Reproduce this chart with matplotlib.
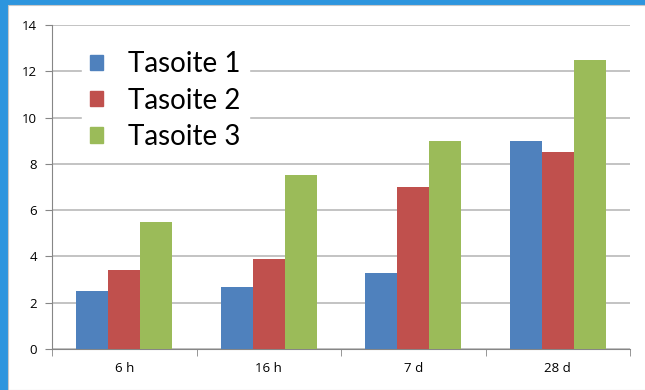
import matplotlib.pyplot as plt
import matplotlib.patches as mpatches
import numpy as np

categories = ["6 h", "16 h", "7 d", "28 d"]
series_names = ["Tasoite 1", "Tasoite 2", "Tasoite 3"]
tasoite1 = [2.5, 2.7, 3.3, 9.0]
tasoite2 = [3.4, 3.9, 7.0, 8.5]
tasoite3 = [5.5, 7.5, 9.0, 12.5]
colors = ["#4F81BD", "#C0504D", "#9BBB59"]

W, H = 645, 390
fig = plt.figure(figsize=(W / 100, H / 100), dpi=100)
fig.patch.set_facecolor("#2D95DE")
# white slide panel
fig.patches.append(mpatches.Rectangle((8 / W, 0), 1, 1 - 5 / H, transform=fig.transFigure,
                                      facecolor="white", edgecolor="#C8C8C8", lw=0.8, zorder=-5))

ax = fig.add_axes([52 / W, 1 - 349 / H, (630 - 52) / W, (349 - 25) / H])
ax.set_facecolor("none")

x = np.arange(len(categories))
w = 1 / 4.5
for i, vals in enumerate([tasoite1, tasoite2, tasoite3]):
    ax.bar(x + (i - 1) * w, vals, w, color=colors[i], label=series_names[i], zorder=3)

ax.set_xlim(-0.5, len(categories) - 0.5)
ax.set_ylim(0, 14)
ax.set_yticks(range(0, 15, 2))
ax.set_xticks(x)
ax.set_xticklabels(categories, fontsize=9.5, family="Open Sans")
ax.set_xticks(np.arange(-0.5, len(categories), 1), minor=True)
ax.tick_params(axis="x", which="major", length=0, pad=9)
ax.tick_params(axis="x", which="minor", length=5, color="#868686", direction="out")
ax.tick_params(axis="y", length=5, color="#868686", labelsize=9.5, pad=6)
for lab in ax.get_yticklabels():
    lab.set_family("Open Sans")
ax.grid(axis="y", color="#B3B3B3", lw=1.1, zorder=0)
for s in ["top", "right"]:
    ax.spines[s].set_visible(False)
ax.spines["left"].set_color("#868686")
ax.spines["bottom"].set_color("#868686")

handles = [mpatches.Rectangle((0, 0), 1, 1, color=c) for c in colors]
leg = ax.legend(handles, series_names, loc="upper left", bbox_to_anchor=(82 / W, 1 - 43 / H),
                bbox_transform=fig.transFigure, frameon=True, fancybox=False, framealpha=1,
                edgecolor="white", facecolor="white", prop={"family": "Lato", "size": 20},
                handlelength=0.47, handleheight=0.47, handletextpad=0.9, labelspacing=0.37,
                borderpad=0.3, borderaxespad=0)
leg.set_zorder(5)

fig.savefig("out.png", dpi=100, facecolor=fig.get_facecolor())
